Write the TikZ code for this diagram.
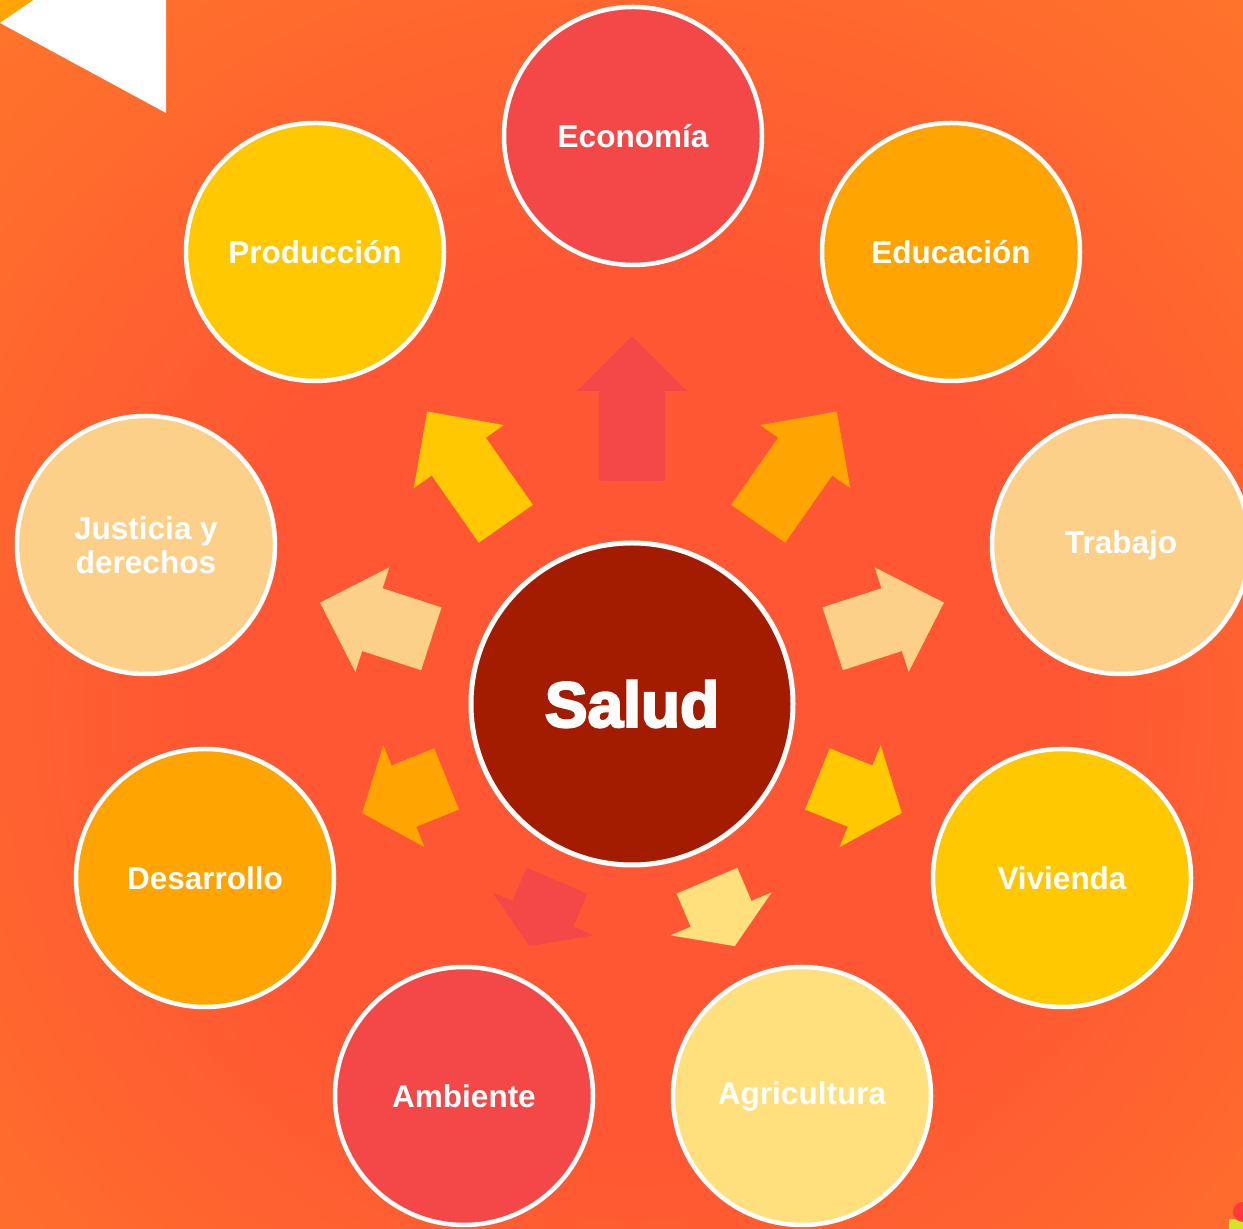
\documentclass[tikz,border=0pt]{standalone}
\usepackage{fontspec}
\setmainfont{Liberation Sans}
\newfontfamily\saludfont[FakeBold=3.5]{Liberation Sans Bold}
\definecolor{bgc}{HTML}{FF5733}
\definecolor{bgm}{HTML}{FF7829}
\definecolor{bge}{HTML}{FF8A21}
\definecolor{cred}{HTML}{F44848}
\definecolor{cyel}{HTML}{FFC800}
\definecolor{corg}{HTML}{FFA400}
\definecolor{clight}{HTML}{FDD089}
\definecolor{cpale}{HTML}{FFE07C}
\definecolor{csalud}{HTML}{A31C00}
\pgfdeclareradialshading{bgshade}{\pgfpoint{0bp}{0bp}}{color(0bp)=(bgc); color(11bp)=(bgc); color(25bp)=(bgm); color(38bp)=(bge); color(50bp)=(bge)}
\newcommand\blockarrow[5]{%
  \fill[#5, shift={(632,525)}, rotate=#1] (#2,-33) -- ({#3-#4},-33) -- ({#3-#4},-55) -- (#3,0) -- ({#3-#4},55) -- ({#3-#4},33) -- (#2,33) -- cycle;}
\tikzset{
  circ/.style={circle, draw=white, line width=4.5bp, minimum size=258bp, inner sep=0pt,
    text=white, align=center, font=\bfseries\fontsize{31.5bp}{34bp}\selectfont},
}
\begin{document}
\begin{tikzpicture}[x=1bp, y=1bp]
\useasboundingbox (0,0) rectangle (1243,1229);
\begin{scope}
\clip (0,0) rectangle (1243,1229);
\shade[shading=bgshade] (632,525) circle[radius=1000];
% corner shapes
\fill[corg] (0,1229) -- (35,1229) -- (0,1206) -- cycle;
\fill[white] (0,1206) -- (166,1116) -- (166,1320) -- cycle;
\fill[yellow!80!green!90!white] (1229,0) rectangle (1243,10);
\fill[red!70!pink] (1243,17) circle[radius=10];
% arrows
\blockarrow{90}{223}{368}{55}{cred}
\blockarrow{55}{220}{357}{55}{corg}
\blockarrow{125}{220}{357}{55}{cyel}
\blockarrow{18}{211}{328}{55}{clight}
\blockarrow{162}{211}{328}{55}{clight}
\blockarrow{-22}{200}{291}{45}{cyel}
\blockarrow{202}{200}{291}{45}{corg}
\blockarrow{247}{192}{263}{35}{cred}
\blockarrow{-67}{192}{263}{35}{cpale}
% circles
\node[circ, fill=cred] (eco) at (633,1093) {Economía};
\node[circ, fill=corg] (edu) at (951,977) {Educación};
\node[circ, fill=cyel] (pro) at (315,977) {Producción};
\node[circ, fill=clight] (tra) at (1121,684) {Trabajo};
\node[circ, fill=clight] (jus) at (146,684) {Justicia y\\derechos};
\node[circ, fill=cyel] (viv) at (1062,351) {Vivienda};
\node[circ, fill=corg] (des) at (205,351) {Desarrollo};
\node[circ, fill=cred] (amb) at (464,133) {Ambiente};
\node[circ, fill=cpale] (agr) at (802,133) {Agricultura};
\node[circle, draw=white, line width=5bp, minimum size=322bp, inner sep=0pt, fill=csalud,
  text=white, font=\saludfont\fontsize{64bp}{70bp}\selectfont] (salud) at (632,525) {Salud};
\end{scope}
\end{tikzpicture}
\end{document}
